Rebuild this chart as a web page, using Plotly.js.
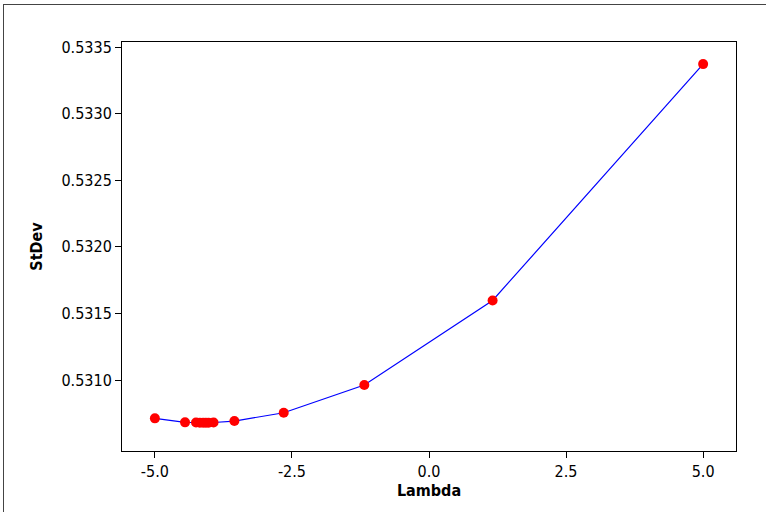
<!DOCTYPE html>
<html>
<head>
<meta charset="utf-8">
<script src="https://cdn.plot.ly/plotly-3.0.1.min.js"></script>
<style>
  html, body { margin: 0; padding: 0; background: #fff; }
  #wrap { position: relative; width: 766px; height: 512px; overflow: hidden; }
  #chart { width: 766px; height: 512px; }
  #frame {
    position: absolute; left: 3px; top: 4px; width: 800px; height: 600px;
    border-left: 1px solid #444; border-top: 1px solid #444; pointer-events: none;
  }
</style>
</head>
<body>
<div id="wrap">
  <div id="chart"></div>
  <div id="frame"></div>
</div>
<script>
// Box-Cox search: standard deviation at each trial lambda
const lambda = [-5.0, -4.45, -4.25, -4.18, -4.12, -4.07, -4.02, -3.93, -3.55, -2.65, -1.18, 1.16, 5.0];
const stdev  = [0.530712, 0.530682, 0.530681, 0.530680, 0.530680, 0.530680, 0.530680, 0.530681,
                0.530692, 0.530754, 0.530962, 0.531597, 0.533372];

const xTicks = [-5.0, -2.5, 0.0, 2.5, 5.0];
const yTicks = [0.5310, 0.5315, 0.5320, 0.5325, 0.5330, 0.5335];

const tickFont = { family: 'DejaVu Sans Condensed, DejaVu Sans, sans-serif', size: 16, color: '#000' };
const titleFont = { family: 'DejaVu Sans Condensed, DejaVu Sans, sans-serif', size: 16, color: '#000', weight: 'bold' };

const trace = {
  x: lambda,
  y: stdev,
  type: 'scatter',
  mode: 'lines+markers',
  line: { color: '#0000ff', width: 1.2 },
  marker: { color: '#ff0000', size: 10 },
  hoverinfo: 'x+y'
};

const layout = {
  width: 766,
  height: 512,
  margin: { l: 122, r: 30, t: 42, b: 61 },
  paper_bgcolor: '#ffffff',
  plot_bgcolor: '#ffffff',
  showlegend: false,
  xaxis: {
    range: [-5.6, 5.6],
    tickvals: xTicks,
    ticktext: xTicks.map(v => v.toFixed(1)),
    ticks: 'outside', ticklen: 6, tickwidth: 1, tickcolor: '#000',
    showgrid: false, zeroline: false,
    showline: true, linecolor: '#000', linewidth: 1, mirror: true,
    tickfont: tickFont,
    title: { text: 'Lambda', font: titleFont, standoff: 0 }
  },
  yaxis: {
    range: [0.530467, 0.533538],
    tickvals: yTicks,
    ticktext: yTicks.map(v => v.toFixed(4)),
    ticks: 'outside', ticklen: 6, tickwidth: 1, tickcolor: '#000',
    showgrid: false, zeroline: false,
    showline: true, linecolor: '#000', linewidth: 1, mirror: true,
    tickfont: tickFont,
    title: { text: 'StDev', font: titleFont, standoff: 14 }
  }
};

Plotly.newPlot('chart', [trace], layout, { displayModeBar: false, staticPlot: true });
</script>
</body>
</html>
